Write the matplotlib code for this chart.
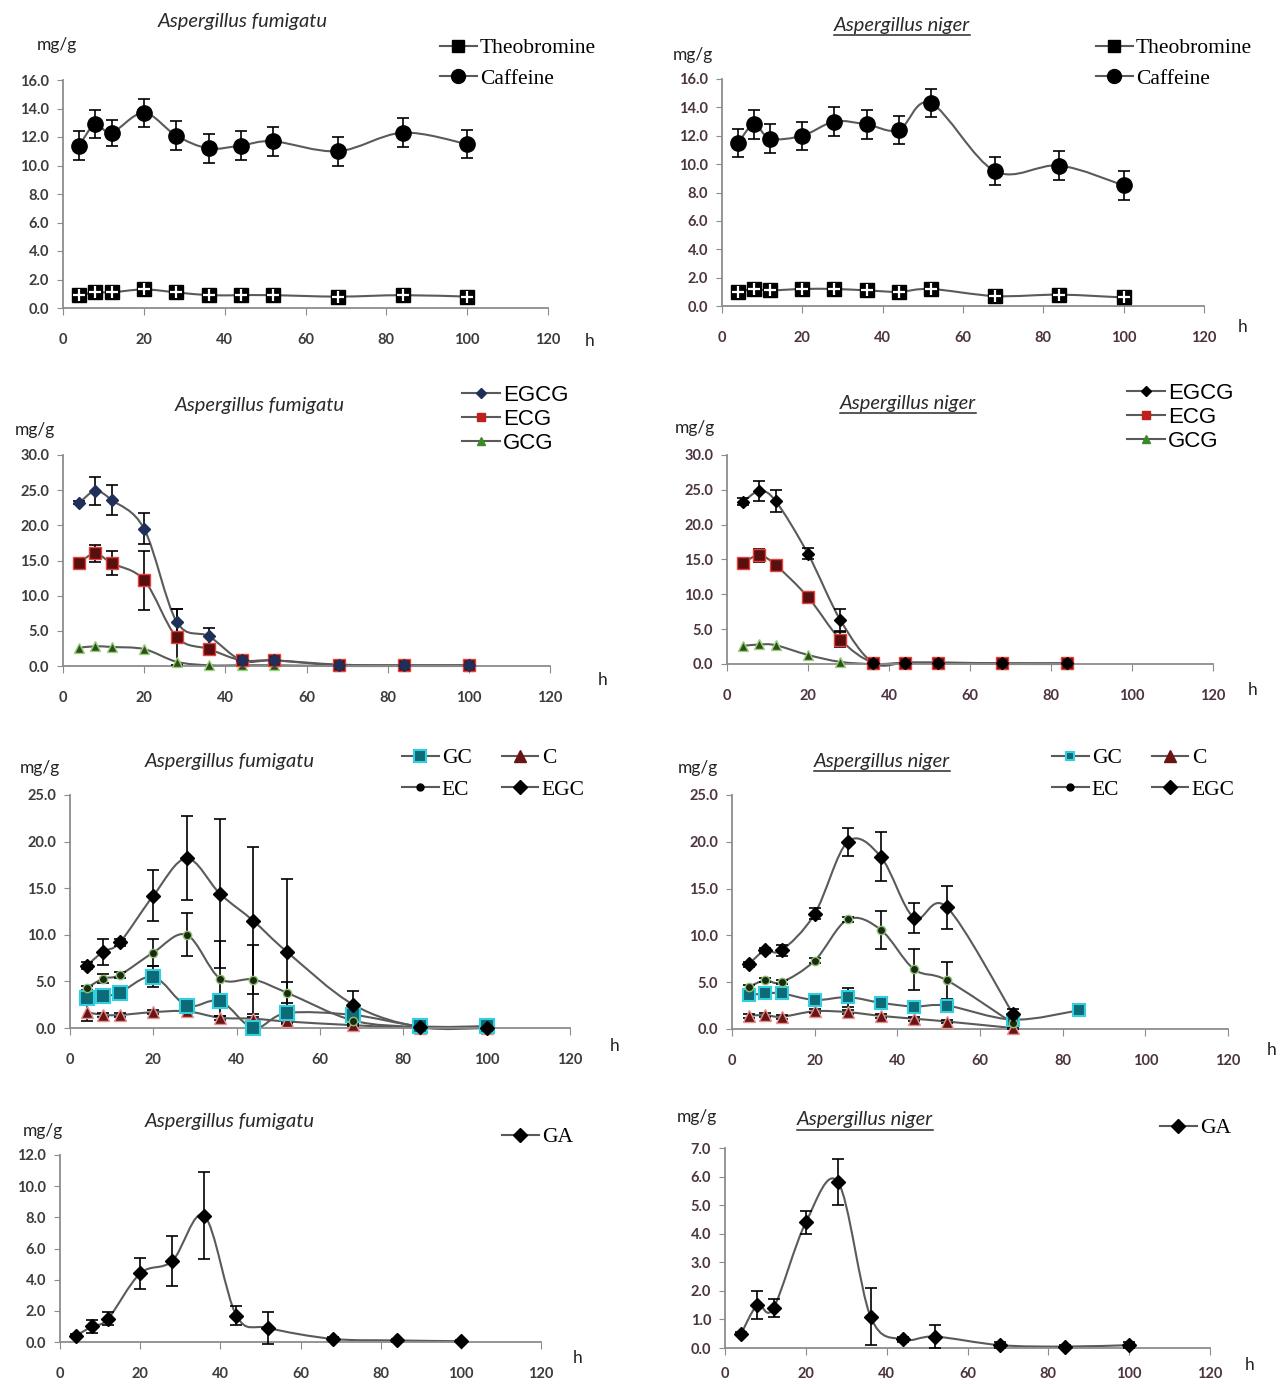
import matplotlib
matplotlib.use("Agg")
import matplotlib.pyplot as plt
from matplotlib.path import Path
from matplotlib.patches import PathPatch
from matplotlib.lines import Line2D
import numpy as np

W, H = 1282, 1384

hours = [4, 8, 12, 20, 28, 36, 44, 52, 68, 84, 100]
hours_10 = hours[:10]
hours_9 = hours[:9]
x_ticks = [0, 20, 40, 60, 80, 100, 120]

# row 1: purine alkaloids
fum_caffeine = [11.4, 12.9, 12.3, 13.7, 12.1, 11.2, 11.4, 11.7, 11.0, 12.3, 11.5]
fum_caffeine_err = [1.0, 1.0, 0.9, 1.0, 1.0, 1.0, 1.0, 1.0, 1.0, 1.0, 1.0]
fum_theobromine = [0.9, 1.1, 1.1, 1.3, 1.1, 0.9, 0.9, 0.9, 0.8, 0.9, 0.8]
nig_caffeine = [11.5, 12.8, 11.8, 12.0, 13.0, 12.8, 12.4, 14.3, 9.5, 9.9, 8.5]
nig_caffeine_err = [1.0, 1.0, 1.0, 1.0, 1.0, 1.0, 1.0, 1.0, 1.0, 1.0, 1.0]
nig_theobromine = [1.0, 1.2, 1.1, 1.2, 1.2, 1.1, 1.0, 1.2, 0.7, 0.8, 0.6]

# row 2: galloylated catechins
fum_egcg = [23.2, 24.9, 23.6, 19.5, 6.3, 4.2, 0.8, 0.8, 0.2, 0.1, 0.1]
fum_egcg_err = [0.2, 2.0, 2.2, 2.2, 1.8, 1.2, 0.1, 0.1, 0.1, 0.1, 0.1]
fum_ecg = [14.7, 16.0, 14.6, 12.2, 4.1, 2.4, 0.8, 0.8, 0.1, 0.1, 0.1]
fum_ecg_err = [0.4, 1.2, 1.7, 4.2, 4.0, 0.5, 0.1, 0.1, 0.1, 0.1, 0.1]
fum_gcg = [2.6, 2.8, 2.7, 2.4, 0.6, 0.1, 0.1, 0.1, 0.0, 0.0, 0.0]
nig_egcg = [23.3, 24.8, 23.4, 15.8, 6.3, 0.2, 0.2, 0.2, 0.1, 0.1]
nig_egcg_err = [0.5, 1.4, 1.6, 0.8, 1.6, 0.1, 0.1, 0.1, 0.1, 0.1]
nig_ecg = [14.5, 15.6, 14.2, 9.6, 3.5, 0.2, 0.2, 0.2, 0.1, 0.1]
nig_ecg_err = [0.3, 0.9, 0.3, 0.3, 1.1, 0.1, 0.1, 0.1, 0.1, 0.1]
nig_gcg = [2.6, 2.8, 2.7, 1.3, 0.3, 0.0, 0.1, 0.1, 0.0, 0.0]

# row 3: non-galloylated catechins
fum_gc = [3.2, 3.4, 3.8, 5.5, 2.4, 2.9, 0.0, 1.6, 1.4, 0.2, 0.2]
fum_gc_err = [0.6, 0.5, 0.3, 1.1, 0.3, 0.4, 0.1, 0.4, 0.3, 0.1, 0.1]
fum_c = [1.7, 1.4, 1.4, 1.7, 1.8, 1.1, 1.0, 0.7, 0.3, 0.0, 0.0]
fum_c_err = [0.9, 0.2, 0.2, 0.2, 0.2, 0.2, 0.2, 0.2, 0.1, 0.0, 0.0]
fum_ec = [4.3, 5.3, 5.7, 8.1, 10.0, 5.3, 5.2, 3.8, 0.8, 0.1, 0.0]
fum_ec_err = [0.2, 0.5, 0.3, 1.5, 2.3, 4.0, 3.7, 1.1, 0.3, 0.0, 0.0]
fum_egc = [6.7, 8.2, 9.2, 14.2, 18.2, 14.4, 11.5, 8.2, 2.5, 0.1, 0.0]
fum_egc_err = [0.4, 1.4, 0.4, 2.7, 4.5, 8.0, 7.9, 7.8, 1.5, 0.0, 0.0]
nig_gc = [3.6, 3.8, 3.8, 3.1, 3.4, 2.8, 2.4, 2.5, 1.0, 2.0]
nig_gc_err = [0.3, 0.2, 0.2, 0.2, 1.0, 0.2, 0.2, 0.3, 0.1, 0.1]
nig_c = [1.4, 1.5, 1.3, 1.9, 1.8, 1.4, 1.1, 0.8, 0.1]
nig_c_err = [0.2, 0.2, 0.2, 0.2, 0.2, 0.2, 0.2, 0.2, 0.1]
nig_ec = [4.5, 5.2, 5.0, 7.3, 11.7, 10.6, 6.4, 5.2, 0.6]
nig_ec_err = [0.2, 0.2, 0.2, 0.3, 0.3, 2.0, 2.2, 2.0, 0.2]
nig_egc = [6.9, 8.4, 8.4, 12.3, 20.0, 18.4, 11.9, 13.0, 1.6]
nig_egc_err = [0.3, 0.3, 0.6, 0.6, 1.5, 2.6, 1.6, 2.3, 0.5]

# row 4: gallic acid
fum_ga = [0.4, 1.0, 1.5, 4.4, 5.2, 8.1, 1.7, 0.9, 0.2, 0.1, 0.05]
fum_ga_err = [0.1, 0.4, 0.4, 1.0, 1.6, 2.8, 0.6, 1.0, 0.1, 0.1, 0.05]
nig_ga = [0.5, 1.5, 1.4, 4.4, 5.8, 1.1, 0.3, 0.4, 0.1, 0.05, 0.1]
nig_ga_err = [0.05, 0.5, 0.3, 0.4, 0.8, 1.0, 0.1, 0.4, 0.1, 0.05, 0.1]

TITLE_FUM = "Aspergillus fumigatu"
TITLE_NIG = "Aspergillus niger"

LINE_C = "#5a5a5a"
TICK_FONT = "Lato"

fig = plt.figure(figsize=(W / 100, H / 100), dpi=100)


def make_axes(x0, x1, ytop, ybot, ymax, ystep, tick_color, xpad=13):
    ax = fig.add_axes([x0 / W, 1 - ybot / H, (x1 - x0) / W, (ybot - ytop) / H])
    ax.set_xlim(0, 120)
    ax.set_ylim(0, ymax)
    ax.set_xticks(x_ticks)
    yt = np.arange(0, ymax + 0.001, ystep)
    ax.set_yticks(yt)
    ax.set_yticklabels([f"{v:.1f}" for v in yt])
    for s in ["top", "right"]:
        ax.spines[s].set_visible(False)
    for s in ["left", "bottom"]:
        ax.spines[s].set_color("#8c8c8c")
        ax.spines[s].set_linewidth(1.3)
    ax.tick_params(axis="x", direction="out", length=5, color="#8c8c8c", pad=xpad)
    ax.tick_params(axis="y", direction="out", length=4, color="#8c8c8c", pad=6)
    for lab in ax.get_xticklabels() + ax.get_yticklabels():
        lab.set_fontfamily(TICK_FONT)
        lab.set_fontweight("bold")
        lab.set_fontsize(10.5)
        lab.set_color(tick_color)
    ax.patch.set_alpha(0)
    return ax


def smooth_line(ax, xs, ys, color=LINE_C, lw=1.5):
    # Excel style smoothed line, Catmull-Rom segments as cubic Beziers
    pts = np.column_stack([xs, ys]).astype(float)
    n = len(pts)
    verts = [pts[0]]
    codes = [Path.MOVETO]
    for i in range(n - 1):
        p0 = pts[i - 1] if i > 0 else pts[i]
        p1 = pts[i]
        p2 = pts[i + 1]
        p3 = pts[i + 2] if i + 2 < n else pts[i + 1]
        c1 = p1 + (p2 - p0) / 6.0
        c2 = p2 - (p3 - p1) / 6.0
        verts += [c1, c2, p2]
        codes += [Path.CURVE4] * 3
    ax.add_patch(PathPatch(Path(verts, codes), fill=False, edgecolor=color,
                           lw=lw, zorder=2, clip_on=False))


def series(ax, xs, ys, err, marker, ms, fc, ec, mew=1.0, overlay=None):
    smooth_line(ax, xs, ys)
    if err is not None:
        ax.errorbar(xs, ys, yerr=err, fmt="none", ecolor="black", elinewidth=1.2,
                    capsize=4, capthick=1.2, zorder=3, clip_on=False)
    ax.plot(xs, ys, linestyle="none", marker=marker, ms=ms, mfc=fc, mec=ec,
            mew=mew, zorder=4, clip_on=False)
    if overlay is not None:
        ax.plot(xs, ys, linestyle="none", marker="+", ms=ms * 0.9, mec="white",
                mew=1.6, zorder=5, clip_on=False)


def handle(marker, ms, fc, ec, mew=1.0):
    return Line2D([], [], color=LINE_C, lw=1.5, marker=marker, ms=ms,
                  mfc=fc, mec=ec, mew=mew)


def add_title(ax_x, ax_y, text, underline):
    t = fig.text(ax_x / W, 1 - ax_y / H, text, ha="center", va="center",
                 fontfamily=TICK_FONT, style="italic", fontsize=14.5, color="#2a2a2a")
    if underline:
        fig.canvas.draw()
        bb = t.get_window_extent(fig.canvas.get_renderer())
        yline = (bb.y0 - 1) / H
        fig.add_artist(Line2D([bb.x0 / W, bb.x1 / W], [yline, yline],
                              color="#2a2a2a", lw=1.1))


def add_text(x, y, s, size=12.5, family=TICK_FONT, **kw):
    fig.text(x / W, 1 - y / H, s, ha="center", va="center", fontfamily=family,
             fontsize=size, color="#222222", **kw)


def add_legend(handles, labels, x, y, family, size, spacing, ncol=1):
    fig.legend(handles, labels, loc="upper left", bbox_to_anchor=(x / W, 1 - y / H),
               frameon=False, prop={"family": family, "size": size}, ncol=ncol,
               handlelength=1.7, handletextpad=0.15, borderpad=0, borderaxespad=0,
               labelspacing=spacing, columnspacing=1.4)


FUM_TC = "#3c3c3c"
NIG_TC = "#4b3440"

# ---------------- row 1 ----------------
ax1 = make_axes(63, 548, 80, 308, 16, 2, FUM_TC)
series(ax1, hours, fum_theobromine, None, "s", 10, "black", "black", overlay=True)
series(ax1, hours, fum_caffeine, fum_caffeine_err, "o", 11, "black", "black")
add_title(243, 22, TITLE_FUM, False)
add_text(57, 45, "mg/g")
add_text(590, 341, "h")
add_legend([handle("s", 9, "black", "black"), handle("o", 10, "black", "black")],
           ["Theobromine", "Caffeine"], 440, 38, "Liberation Serif", 15.5, 0.5)

ax2 = make_axes(722, 1204, 79, 306, 16, 2, NIG_TC)
series(ax2, hours, nig_theobromine, None, "s", 10, "black", "black", overlay=True)
series(ax2, hours, nig_caffeine, nig_caffeine_err, "o", 11, "black", "black")
add_title(902, 25, TITLE_NIG, True)
add_text(693, 55, "mg/g")
add_text(1243, 327, "h")
add_legend([handle("s", 9, "black", "black"), handle("o", 10, "black", "black")],
           ["Theobromine", "Caffeine"], 1096, 38, "Liberation Serif", 15.5, 0.5)

# ---------------- row 2 ----------------
ax3 = make_axes(63, 550, 455, 666, 30, 5, FUM_TC)
series(ax3, hours, fum_gcg, None, "^", 7, "#2f4f1f", "#9ad27a")
series(ax3, hours, fum_ecg, fum_ecg_err, "s", 8, "#5a0f0f", "#e8403a")
series(ax3, hours, fum_egcg, fum_egcg_err, "D", 6, "#1d2f5a", "#1d2f5a")
add_title(260, 405, TITLE_FUM, False)
add_text(35, 430, "mg/g")
add_text(603, 680, "h")
add_legend([handle("D", 5, "#1d2f5a", "#1d2f5a"), handle("s", 6, "#c0201a", "#c0201a"),
            handle("^", 6, "#3a8a2a", "#3a8a2a")],
           ["EGCG", "ECG", "GCG"], 462, 385, "Liberation Sans", 16, 0.14)

ax4 = make_axes(727, 1213, 455, 664, 30, 5, NIG_TC)
series(ax4, hours_10, nig_gcg, None, "^", 7, "#2f4f1f", "#9ad27a")
series(ax4, hours_10, nig_ecg, nig_ecg_err, "s", 8, "#5a0f0f", "#e8403a")
series(ax4, hours_10, nig_egcg, nig_egcg_err, "D", 6, "black", "black")
add_title(908, 404, TITLE_NIG, True)
add_text(695, 428, "mg/g")
add_text(1253, 690, "h")
add_legend([handle("D", 5, "black", "black"), handle("s", 6, "#c0201a", "#c0201a"),
            handle("^", 6, "#3a8a2a", "#3a8a2a")],
           ["EGCG", "ECG", "GCG"], 1127, 383, "Liberation Sans", 16, 0.14)

# ---------------- row 3 ----------------
ax5 = make_axes(70, 570, 795, 1028, 25, 5, FUM_TC)
series(ax5, hours, fum_c, fum_c_err, "^", 8, "#6a1414", "#e89090")
series(ax5, hours, fum_gc, fum_gc_err, "s", 10, "#0f6a78", "#30d0e0", mew=1.5)
series(ax5, hours, fum_ec, fum_ec_err, "o", 6, "#1a2a12", "#8ac070")
series(ax5, hours, fum_egc, fum_egc_err, "D", 7, "black", "black")
add_title(230, 762, TITLE_FUM, False)
add_text(40, 768, "mg/g")
add_text(615, 1046, "h")
add_legend([handle("s", 9, "#0f6a78", "#30d0e0", 1.5), handle("o", 5, "black", "black"),
            handle("^", 8, "#6a1414", "#6a1414"), handle("D", 7, "black", "black")],
           ["GC", "EC", "C", "EGC"], 402, 748, "Liberation Serif", 15.5, 0.55, ncol=2)

ax6 = make_axes(732, 1228, 795, 1029, 25, 5, NIG_TC)
series(ax6, hours_9, nig_c, nig_c_err, "^", 8, "#6a1414", "#e89090")
series(ax6, hours_10, nig_gc, nig_gc_err, "s", 8, "#0f6a78", "#30d0e0", mew=1.5)
series(ax6, hours_9, nig_ec, nig_ec_err, "o", 6, "#1a2a12", "#8ac070")
series(ax6, hours_9, nig_egc, nig_egc_err, "D", 7, "black", "black")
add_title(882, 761, TITLE_NIG, True)
add_text(698, 768, "mg/g")
add_text(1272, 1050, "h")
add_legend([handle("s", 6, "#0f6a78", "#30d0e0", 1.5), handle("o", 5, "black", "black"),
            handle("^", 8, "#6a1414", "#6a1414"), handle("D", 7, "black", "black")],
           ["GC", "EC", "C", "EGC"], 1052, 748, "Liberation Serif", 15.5, 0.55, ncol=2)

# ---------------- row 4 ----------------
ax7 = make_axes(60, 541, 1155, 1342, 12, 2, FUM_TC)
series(ax7, hours, fum_ga, fum_ga_err, "D", 7, "black", "black")
add_title(230, 1122, TITLE_FUM, False)
add_text(43, 1131, "mg/g")
add_text(578, 1358, "h")
add_legend([handle("D", 7, "black", "black")], ["GA"], 502, 1127,
           "Liberation Serif", 15.5, 0.4)

ax8 = make_axes(725, 1210, 1148, 1348, 7, 1, NIG_TC, xpad=9)
series(ax8, hours, nig_ga, nig_ga_err, "D", 7, "black", "black")
add_title(865, 1120, TITLE_NIG, True)
add_text(697, 1117, "mg/g")
add_text(1250, 1365, "h")
add_legend([handle("D", 7, "black", "black")], ["GA"], 1160, 1118,
           "Liberation Serif", 15.5, 0.4)

fig.savefig("out.png", dpi=100)
